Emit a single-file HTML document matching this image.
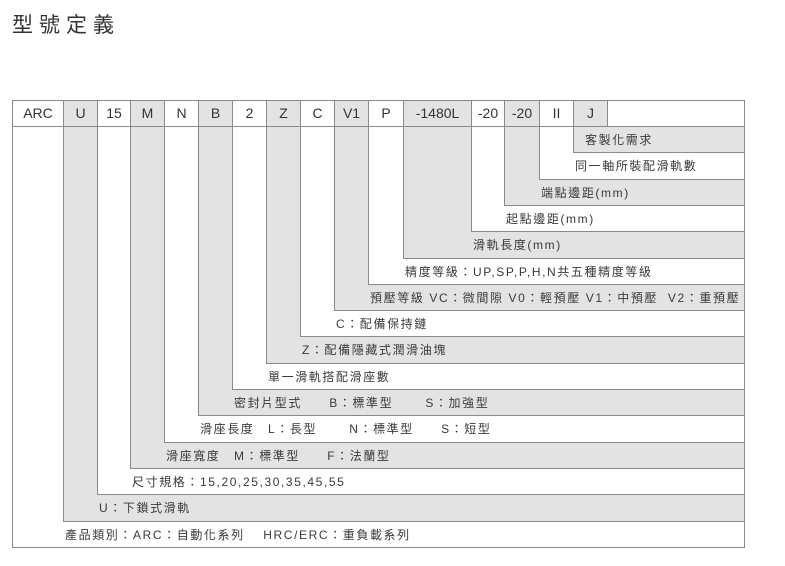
<!DOCTYPE html>
<html><head><meta charset="utf-8">
<style>
body{margin:0;width:785px;height:566px;background:#fff;position:relative;overflow:hidden;font-family:"Liberation Sans","Noto Sans CJK TC",sans-serif;color:#333}
.t{position:absolute;left:12px;top:9px;font-size:21px;letter-spacing:6px;color:#333}
.b{position:absolute;box-sizing:border-box;border:1px solid #8a8a8a;border-top:none;border-right:1px solid #8a8a8a}
.h{position:absolute;top:100px;height:27px;box-sizing:border-box;border:1px solid #8a8a8a;font-size:14px;line-height:25px;text-align:center;color:#333}
.l{position:absolute;font-size:12px;letter-spacing:1.6px;white-space:pre;line-height:26px;color:#3a3a3a}
</style></head><body>
<div class="t">型號定義</div>
<div id="c"></div>
<script>
(function(){
var xs=[12,63,97,130,164,198,232,266,300,334,368,403,471,504,539,573,607];
var hd=["ARC","U","15","M","N","B","2","Z","C","V1","P","-1480L","-20","-20","II","J"];
var lb=["產品類別：ARC：自動化系列　 HRC/ERC：重負載系列","U：下鎖式滑軌","尺寸規格：15,20,25,30,35,45,55","滑座寬度　M：標準型　　F：法蘭型","滑座長度　L：長型　　 N：標準型　　S：短型","密封片型式　　B：標準型　　 S：加強型","單一滑軌搭配滑座數","Z：配備隱藏式潤滑油塊","C：配備保持鏈","預壓等級 VC：微間隙 V0：輕預壓 V1：中預壓  V2：重預壓","精度等級：UP,SP,P,H,N共五種精度等級","滑軌長度(mm)","起點邊距(mm)","端點邊距(mm)","同一軸所裝配滑軌數","客製化需求"];
var R=745,h="",rh=26.3;
for(var i=0;i<16;i++){
 var bot=127+(16-i)*rh;
 var gray=(i%2==1);
 h+='<div class="b" style="left:'+xs[i]+'px;top:100px;width:'+(R-xs[i])+'px;height:'+(bot-100)+'px;background:'+(gray?'#e3e3e3':'#fff')+'"></div>';
}
for(var i=0;i<16;i++){
 var gray=(i%2==1);
 h+='<div class="h" style="left:'+xs[i]+'px;width:'+(xs[i+1]-xs[i]+1)+'px;background:'+(gray?'#e3e3e3':'#fff')+'">'+hd[i]+'</div>';
}
h+='<div class="h" style="left:607px;width:'+(R-607)+'px;background:#fff"></div>';
for(var i=0;i<16;i++){
 var ty=127+(15-i)*rh;
 var x=(i==15)?585:xs[i+1]+2;
 h+='<div class="l" style="left:'+x+'px;top:'+ty+'px">'+lb[i]+'</div>';
}
document.getElementById('c').innerHTML=h;
})();
</script>
</body></html>
